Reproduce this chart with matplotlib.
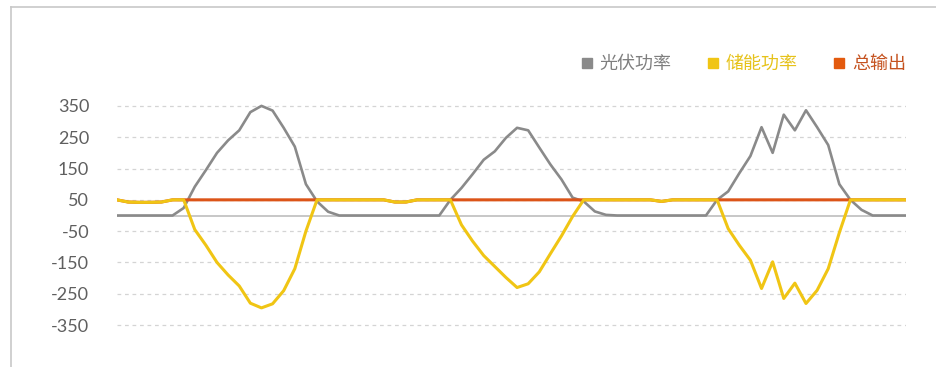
import matplotlib
matplotlib.use("Agg")
import matplotlib.pyplot as plt
from matplotlib.lines import Line2D

# hourly values over three days (72 points)
pv_power = [0, 0, 0, 0, 0, 0, 24, 92, 145, 200, 240, 272,
            330, 350, 335, 280, 220, 100, 45, 12, 0, 0, 0, 0,
            0, 0, 0, 0, 0, 0, 50, 88, 132, 178, 205, 248,
            280, 272, 217, 163, 115, 57, 45, 13, 2, 0, 0, 0,
            0, 0, 0, 0, 0, 0, 50, 77, 135, 190, 282, 200,
            322, 272, 336, 282, 225, 100, 50, 18, 0, 0, 0, 0]

storage_power = [50, 43, 42, 42, 43, 50, 50, -45, -95, -150, -190, -225,
                 -280, -295, -282, -240, -170, -50, 50, 50, 50, 50, 50, 50,
                 50, 43, 43, 50, 50, 50, 50, -30, -82, -128, -163, -198,
                 -230, -218, -180, -122, -65, -3, 50, 50, 50, 50, 50, 50,
                 50, 45, 50, 50, 50, 50, 50, -42, -95, -143, -233, -148,
                 -265, -216, -281, -239, -170, -55, 50, 50, 50, 50, 50, 50]

total_output = [50, 43, 42, 42, 43, 50, 50, 50, 50, 50, 50, 50,
                50, 50, 50, 50, 50, 50, 50, 50, 50, 50, 50, 50,
                50, 43, 43, 50, 50, 50, 50, 50, 50, 50, 50, 50,
                50, 50, 50, 50, 50, 50, 50, 50, 50, 50, 50, 50,
                50, 45, 50, 50, 50, 50, 50, 50, 50, 50, 50, 50,
                50, 50, 50, 50, 50, 50, 50, 50, 50, 50, 50, 50]

series_names = ["光伏功率", "储能功率", "总输出"]
y_ticks = [350, 250, 150, 50, -50, -150, -250, -350]

gray = "#8a8a8a"
yellow = "#f0c514"
orange = "#dc5418"

W, H = 937, 367
fig = plt.figure(figsize=(W / 100, H / 100), dpi=100)

# panel border (only top and left edges are visible in the crop)
fig.add_artist(Line2D([11 / W, 1], [1 - 6.5 / H, 1 - 6.5 / H], color="#c8c8c8", lw=1.2))
fig.add_artist(Line2D([11 / W, 11 / W], [0, 1 - 6.5 / H], color="#c8c8c8", lw=1.2))

ax = fig.add_axes([117 / W, 1 - 334.5 / H, 789 / W, 238 / H])
x = list(range(len(pv_power)))

for t in y_ticks:
    ax.axhline(t, color="#d4d4d4", lw=0.9, ls=(0, (3, 3)), zorder=1)
ax.axhline(0, color="#bdbdbd", lw=1.2, zorder=1)

ax.plot(x, pv_power, color=gray, lw=1.9, zorder=2)
ax.plot(x, total_output, color=orange, lw=2.2, zorder=3)
ax.plot(x, storage_power, color=yellow, lw=2.2, zorder=4)

ax.set_xlim(0, len(x) - 1)
ax.set_ylim(-380, 380)
ax.set_yticks(y_ticks)
ax.set_yticklabels([str(t) for t in y_ticks], family="Lato", fontsize=13, color="#5f5f5f")
ax.tick_params(axis="y", length=0, pad=20)
ax.set_xticks([])
for s in ax.spines.values():
    s.set_visible(False)

handles = [Line2D([], [], marker="s", ls="none", color=c, markersize=7.5)
           for c in (gray, yellow, "#e35a0e")]
leg = fig.legend(handles, series_names, loc="center right",
                 bbox_to_anchor=(906 / W, 1 - 64 / H), ncol=3, frameon=False,
                 prop={"family": ["Noto Sans CJK SC", "DejaVu Sans"], "size": 13},
                 handlelength=0.6, handletextpad=0.4, columnspacing=2.0,
                 borderpad=0, borderaxespad=0,
                 labelcolor=["#7f7f7f", "#e6c21a", "#c5521f"])

fig.savefig("out.png", dpi=100)
